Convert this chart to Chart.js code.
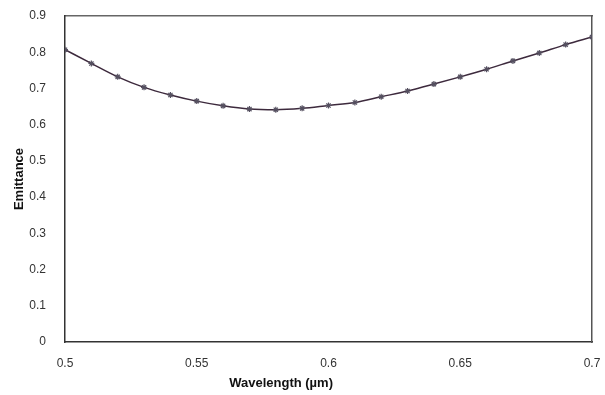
<!DOCTYPE html>
<html>
<head>
<meta charset="utf-8">
<script src="https://cdn.jsdelivr.net/npm/chart.js@4"></script>
<style>
html,body{margin:0;padding:0;background:#fff;}
#c{display:block;}
</style>
</head>
<body>
<canvas id="c" width="605" height="395"></canvas>
<script>
const wavelengths = [0.50,0.51,0.52,0.53,0.54,0.55,0.56,0.57,0.58,0.59,0.60,0.61,0.62,0.63,0.64,0.65,0.66,0.67,0.68,0.69,0.70];
const emittance = [0.807,0.769,0.732,0.703,0.682,0.665,0.652,0.643,0.641,0.645,0.653,0.661,0.677,0.693,0.712,0.732,0.753,0.776,0.798,0.821,0.842];
const xTicks = [0.5,0.55,0.6,0.65,0.7];
const yTicks = [0,0.1,0.2,0.3,0.4,0.5,0.6,0.7,0.8,0.9];
const xTitle = 'Wavelength (µm)';
const yTitle = 'Emittance';

const pts = wavelengths.map((w,i)=>({x:w,y:emittance[i]}));
const family = "'Liberation Sans', Arial, sans-serif";
const tickFont = {family:family, size:12};
const titleFont = {family:family, size:13, weight:'bold'};

const xTitlePlugin = {
  id:'xTitle',
  afterDraw(chart){
    const ca = chart.chartArea, ctx = chart.ctx;
    ctx.save();
    ctx.font = 'bold 13px ' + family;
    ctx.fillStyle = '#111';
    ctx.textAlign = 'center';
    ctx.textBaseline = 'middle';
    ctx.fillText(xTitle, ca.left + (ca.right - ca.left) * 0.41, ca.bottom + 41);
    ctx.restore();
  }
};

new Chart(document.getElementById('c'), {
  type:'line',
  data:{datasets:[{
    data:pts,
    borderColor:'#3d2a3d',
    borderWidth:1.5,
    cubicInterpolationMode:'monotone',
    pointStyle:'star',
    pointRadius:3,
    pointBorderColor:'#555060',
    pointBackgroundColor:'#555060',
    pointBorderWidth:1.2,
    fill:false
  }]},
  plugins:[xTitlePlugin],
  options:{
    responsive:false,
    animation:false,
    devicePixelRatio:1,
    layout:{padding:{top:16,right:13,left:6,bottom:0}},
    plugins:{legend:{display:false},tooltip:{enabled:false}},
    scales:{
      x:{
        type:'linear',min:0.5,max:0.7,
        afterBuildTicks:(a)=>{a.ticks=xTicks.map(v=>({value:v}));},
        afterFit:(a)=>{a.height=53;a.paddingLeft=0;a.paddingRight=0;},
        ticks:{color:'#333',font:tickFont,padding:10,autoSkip:false,maxRotation:0,callback:(v)=>String(v)},
        grid:{display:false,drawTicks:true,tickLength:4},
        border:{display:true,color:'#333',width:1.5},
        title:{display:false}
      },
      x2:{
        type:'linear',position:'top',min:0.5,max:0.7,
        ticks:{display:false},grid:{display:false,drawTicks:false},
        border:{display:true,color:'#666',width:1.5},
        afterFit:(a)=>{a.height=0;a.paddingLeft=0;a.paddingRight=0;}
      },
      y:{
        min:0,max:0.9,
        afterBuildTicks:(a)=>{a.ticks=yTicks.map(v=>({value:v}));},
        afterFit:(a)=>{a.width=59;a.paddingTop=0;a.paddingBottom=0;},
        ticks:{color:'#333',font:tickFont,padding:13,autoSkip:false,callback:(v)=>String(Math.round(v*10)/10)},
        grid:{display:false,drawTicks:true,tickLength:6},
        border:{display:true,color:'#333',width:1.5},
        title:{display:true,text:yTitle,color:'#111',font:titleFont,padding:{top:6,bottom:0}}
      },
      y2:{
        position:'right',min:0,max:0.9,
        ticks:{display:false},grid:{display:false,drawTicks:false},
        border:{display:true,color:'#555',width:1.5},
        afterFit:(a)=>{a.width=0;a.paddingTop=0;a.paddingBottom=0;}
      }
    }
  }
});
</script>
</body>
</html>
